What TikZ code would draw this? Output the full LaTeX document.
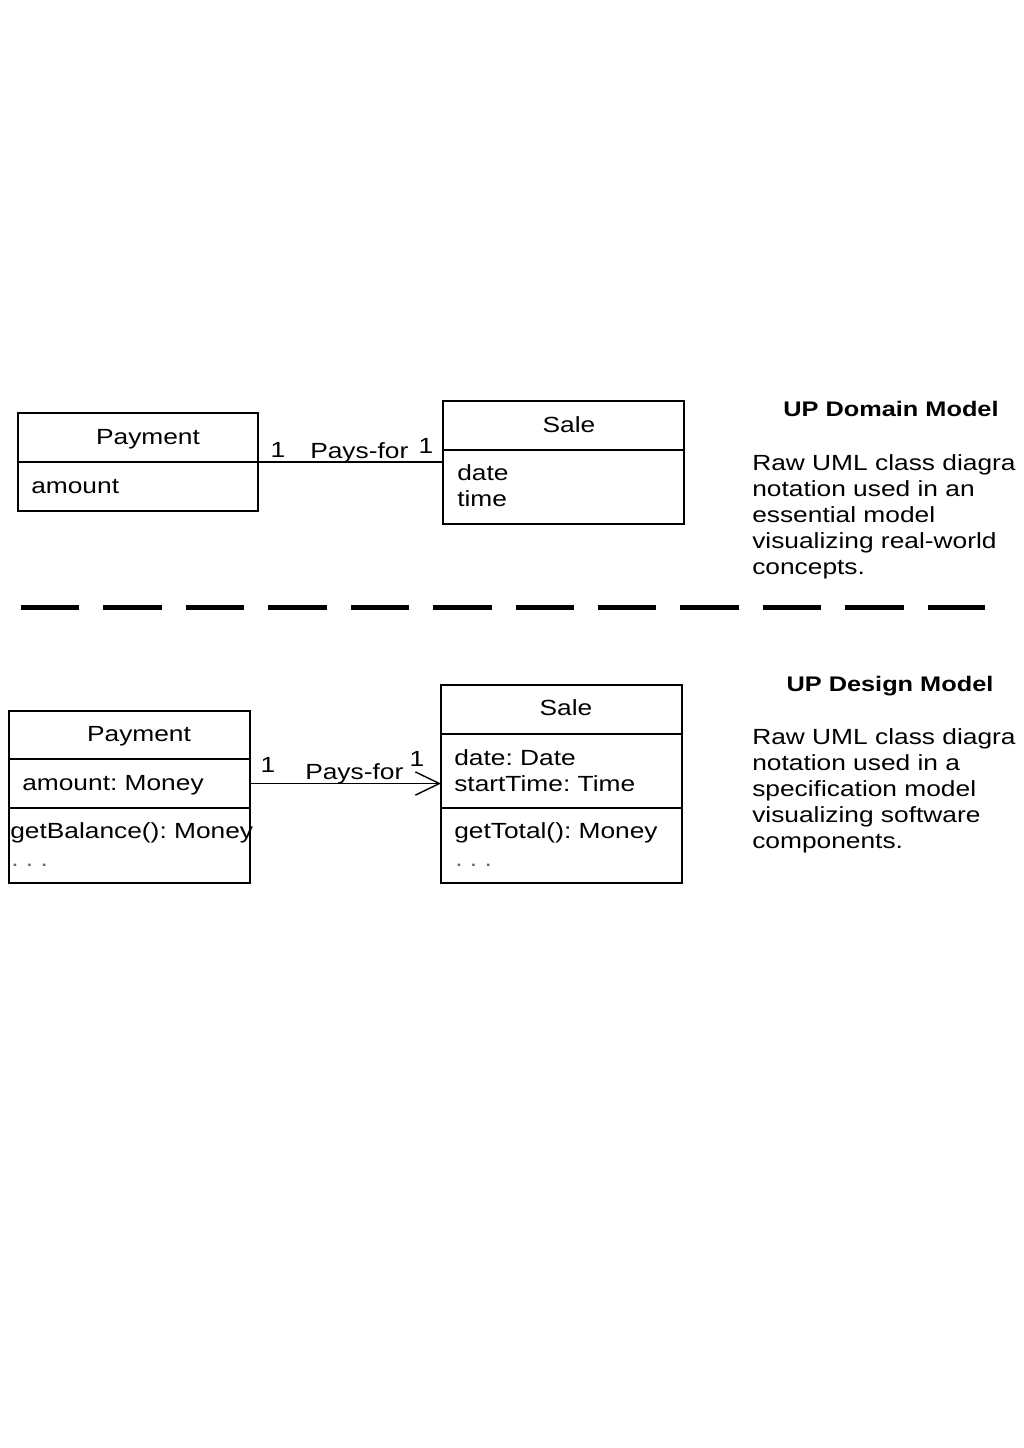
\documentclass[tikz,border=0pt]{standalone}
\usepackage{fontspec}
\setmainfont{Liberation Sans}[FakeStretch=1.2]
\usetikzlibrary{positioning,arrows.meta}
\frenchspacing

\begin{document}
\begin{tikzpicture}[
  x=0.025cm, y=-0.025cm,
  every node/.style={font=\fontsize{15.6pt}{18.45pt}\selectfont},
  cls/.style={draw, line width=1pt, outer sep=0pt, inner sep=0pt,
    minimum width=6.025cm, anchor=north west},
  txt/.style={inner sep=0pt, anchor=base west},
  nm/.style={inner sep=0pt, anchor=base},
  dots/.style={txt, text=black!60},
  title/.style={inner sep=0pt, anchor=base,
    font=\bfseries\fontsize{15pt}{18pt}\selectfont},
  note/.style={inner sep=0pt, anchor=base west, align=left}]

  \useasboundingbox (0,0) rectangle (1024,1448);

  % domain model
  \node[cls, minimum width=6cm, minimum height=1.225cm] (dPayName) at (18,413) {};
  \node[cls, minimum width=6cm, minimum height=1.225cm, below=0pt of dPayName] (dPayAttr) {};
  \node[nm] (dPayTxt) at (148,444) {Payment};
  \node[txt] (dAmount) at (31,493) {amount};

  \node[cls, minimum height=1.225cm] (dSaleName) at (443,401) {};
  \node[cls, minimum height=1.85cm, below=0pt of dSaleName] (dSaleAttr) {};
  \node[nm] (dSaleTxt) at (569,432) {Sale};
  \node[txt] (dDate) at (457,480) {date};
  \node[txt] (dTime) at (457,506) {time};

  \draw[line width=1pt] (dPayAttr.north east) -- (dPayAttr.north east -| dSaleAttr.west);
  \node[nm] (dMultPay) at (278,457) {1};
  \node[txt] (dPaysFor) at (310,458) {Pays-for};
  \node[nm] (dMultSale) at (426,453) {1};

  % note anchored on its last line
  \node[title] (dTitle) at (891,416) {UP Domain Model};
  \node[note] (dNote) at (752,574) {Raw UML class diagra\\notation used in an\\essential model\\visualizing real-world\\concepts.};

  % separator
  \coordinate (sepL) at (21,607);
  \coordinate (sepR) at (985,607);
  \draw[line width=0.125cm, dash pattern=on 1.46cm off 0.6cm] (sepL) -- (sepR);

  % design model
  \node[cls, minimum height=1.2cm] (gPayName) at (9,711) {};
  \node[cls, minimum height=1.225cm, below=0pt of gPayName] (gPayAttr) {};
  \node[cls, minimum height=1.875cm, below=0pt of gPayAttr] (gPayOps) {};
  \node[nm] (gPayTxt) at (139,741) {Payment};
  \node[txt] (gAmount) at (22,790) {amount: Money};
  \node[txt] (gBalance) at (10,838) {getBalance(): Money};
  \node[dots] (gPayDots) at (11,866) {. . .};

  \node[cls, minimum height=1.225cm] (gSaleName) at (441,685) {};
  \node[cls, minimum height=1.85cm, below=0pt of gSaleName] (gSaleAttr) {};
  \node[cls, minimum height=1.875cm, below=0pt of gSaleAttr] (gSaleOps) {};
  \node[nm] (gSaleTxt) at (566,715) {Sale};
  \node[txt] (gDate) at (454,765) {date: Date};
  \node[txt] (gStart) at (454,791) {startTime: Time};
  \node[txt] (gTotal) at (454,838) {getTotal(): Money};
  \node[dots] (gSaleDots) at (455,866) {. . .};

  \draw[line width=1pt, -{Straight Barb[length=0.6cm, width=0.58cm]}]
    (gPayAttr.east) -- (gPayAttr.east -| gSaleAttr.west);
  \node[nm] (gMultPay) at (268,772) {1};
  \node[txt] (gPaysFor) at (305,779) {Pays-for};
  \node[nm] (gMultSale) at (417,766) {1};

  \node[title] (gTitle) at (890,691) {UP Design Model};
  \node[note] (gNote) at (752,848) {Raw UML class diagra\\notation used in a\\specification model\\visualizing software\\components.};
\end{tikzpicture}
\end{document}
